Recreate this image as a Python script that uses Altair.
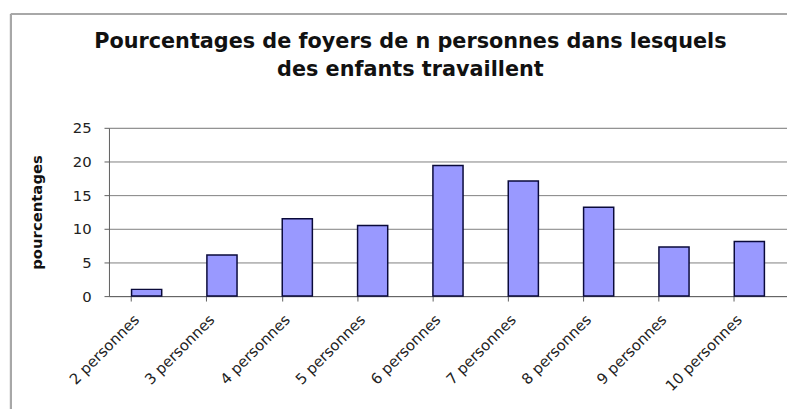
import altair as alt
import pandas as pd

categories = ["2 personnes", "3 personnes", "4 personnes", "5 personnes", "6 personnes",
              "7 personnes", "8 personnes", "9 personnes", "10 personnes"]
values = [1.0, 6.1, 11.5, 10.5, 19.4, 17.1, 13.2, 7.3, 8.1]
y_ticks = [0, 5, 10, 15, 20, 25]
title_lines = ["Pourcentages de foyers de n personnes dans lesquels", "des enfants travaillent"]
y_title = "pourcentages"

df = pd.DataFrame({"cat": categories, "val": values})
FONT = "DejaVu Sans"

bars = alt.Chart(df).mark_bar(
    color="#9999ff", stroke="#0a0a3a", strokeWidth=1.5
).encode(
    x=alt.X("cat:N", sort=categories,
            scale=alt.Scale(paddingInner=0.6, paddingOuter=0.3),
            axis=alt.Axis(title=None, labelAngle=-45, labelAlign="right", labelBaseline="middle",
                          bandPosition=0, labelOffset=-10, labelPadding=16,
                          labelFont=FONT, labelFontSize=15, labelColor="#222222",
                          tickSize=5, tickColor="#606060", domainColor="#606060",
                          grid=False, labelOverlap=False)),
    y=alt.Y("val:Q", scale=alt.Scale(domain=[0, 25], nice=False),
            axis=alt.Axis(title=y_title, values=y_ticks, titleFont=FONT, titleFontSize=15,
                          titleFontWeight="bold", titleColor="#111111", titlePadding=28,
                          labelFont=FONT, labelFontSize=15, labelColor="#222222", labelPadding=13,
                          tickSize=5, tickColor="#606060", domainColor="#606060",
                          grid=True, gridColor="#808080", gridWidth=1))
)

border_v = alt.Chart(df).mark_rule(color="#a8a8a8", strokeWidth=2).encode(
    x=alt.value(-99), y=alt.value(-115), y2=alt.value(400))
border_h = alt.Chart(df).mark_rule(color="#a8a8a8", strokeWidth=2).encode(
    x=alt.value(-99), x2=alt.value(800), y=alt.value(-115))

chart = alt.layer(border_v, border_h, bars).properties(
    width=685, height=170,
    title=alt.TitleParams(text=title_lines, font=FONT, fontSize=21, fontWeight="bold",
                          color="#111111", anchor="middle", frame="group", dx=-38,
                          lineHeight=29, offset=-68),
    padding={"left": 102, "top": 119, "right": 0, "bottom": 112},
    autosize=alt.AutoSizeParams(type="none"),
).configure_view(fill="#c0c0c0", stroke="#808080", strokeWidth=1).configure(background="white")

chart.save("out.html", embed_options={"renderer": "svg", "actions": False})
